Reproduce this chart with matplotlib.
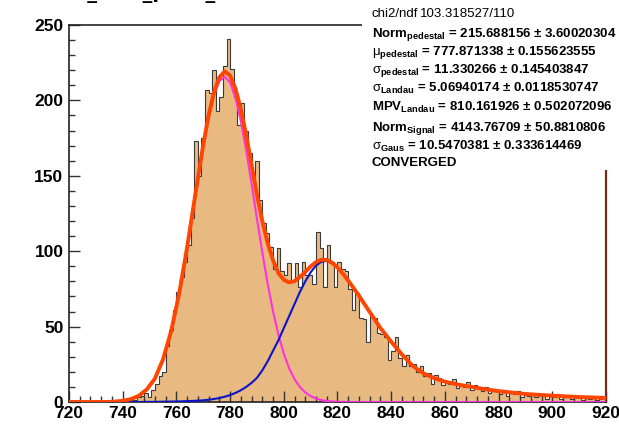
import matplotlib
matplotlib.use('Agg')
import matplotlib.pyplot as plt
from matplotlib.patches import Rectangle
from matplotlib.ticker import MultipleLocator
import numpy as np

plt.rcParams['font.family'] = ['Liberation Sans', 'DejaVu Sans']
plt.rcParams['mathtext.fontset'] = 'custom'
plt.rcParams['mathtext.rm'] = 'Liberation Sans'
plt.rcParams['mathtext.bf'] = 'Liberation Sans:bold'
plt.rcParams['mathtext.it'] = 'Liberation Sans:italic'

# histogram range and bin contents (150 bins)
x_lo, x_hi = 720, 920
counts = [0, 0, 0, 0, 0, 0, 0, 0, 0, 0, 0, 0, 0, 0, 0, 0,
          0, 1, 1, 3, 4, 6, 3, 8, 12, 17, 20, 37, 48, 61, 73, 83,
          93, 104, 122, 173, 150, 175, 207, 205, 220, 193, 202, 223, 241, 221, 202, 184,
          198, 180, 165, 150, 160, 134, 119, 112, 103, 88, 102, 87, 84, 92, 81, 92,
          76, 93, 84, 84, 78, 113, 102, 76, 104, 93, 76, 93, 88, 87, 75, 61,
          72, 56, 55, 40, 57, 56, 46, 45, 43, 28, 34, 43, 29, 24, 31, 24,
          25, 20, 24, 17, 19, 12, 18, 16, 11, 14, 12, 15, 9, 12, 10, 13,
          8, 11, 9, 7, 10, 6, 8, 7, 5, 8, 4, 6, 5, 7, 3, 5,
          4, 6, 3, 4, 5, 2, 4, 3, 5, 2, 3, 4, 2, 3, 4, 1,
          3, 2, 3, 1, 2, 3]

# fit curves
fit_x = [720, 730, 736, 740, 743, 746, 749, 752, 755, 758, 761, 764, 767, 770,
         772, 774, 776, 778, 780, 782, 784, 786, 788, 790, 792, 794, 796, 798,
         800, 802, 804, 806, 808, 810, 812, 814, 816, 818, 820, 822, 824, 826,
         828, 830, 833, 836, 840, 844, 848, 852, 856, 860, 865, 870, 875, 880,
         890, 900, 910, 920]
pedestal = [0, 0, 0.1, 0.8, 1.9, 4.1, 8.3, 15.4, 28, 46.3, 71.2, 102, 136.2, 169.5,
            188.5, 203.5, 212.8, 215.7, 211.9, 201.8, 186.3, 166.8, 144.6, 121.4, 99.1, 78.3, 60, 44.5,
            32, 22.3, 15.1, 9.9, 6.3, 3.9, 2.3, 1.3, 0.7, 0.4, 0.2, 0.1, 0, 0,
            0, 0, 0, 0, 0, 0, 0, 0, 0, 0, 0, 0, 0, 0,
            0, 0, 0, 0]
signal = [0, 0, 0, 0, 0, 0, 0.1, 0.1, 0.2, 0.3, 0.4, 0.6, 0.8, 1.1,
          1.5, 2, 2.6, 3.5, 4.6, 6, 7.8, 10, 12.7, 16, 21, 27, 34, 41,
          49, 57, 65, 73, 80, 86, 90.5, 93, 93.5, 92, 89, 85, 80.5, 75.5,
          70.5, 65, 57, 49, 40, 31.5, 24, 19, 15.8, 13.5, 11.5, 10, 8.5, 7.2,
          5.3, 4.2, 3.3, 2.7]
total = [0, 0, 0.1, 0.8, 1.9, 4.1, 8.4, 15.5, 28.2, 46.6, 71.6, 102.6, 137, 170.6,
         190, 205.5, 215.4, 219.2, 216.5, 207.8, 194.1, 176.8, 157.3, 137.4, 120.1, 105.3, 94, 85.5,
         81, 79.3, 80.1, 82.9, 86.3, 89.9, 92.8, 94.3, 94.2, 92.4, 89.2, 85.1, 80.5, 75.5,
         70.5, 65, 57, 49, 40, 31.5, 24, 19, 15.8, 13.5, 11.5, 10, 8.5, 7.2,
         5.3, 4.2, 3.3, 2.7]

stat_labels = ['chi2/ndf',
               r'$\mathbf{Norm}_{\mathbf{pedestal}}$',
               r'$\mathrm{\mu}_{\mathbf{pedestal}}$',
               r'$\mathrm{\sigma}_{\mathbf{pedestal}}$',
               r'$\mathrm{\sigma}_{\mathbf{Landau}}$',
               r'$\mathbf{MPV}_{\mathbf{Landau}}$',
               r'$\mathbf{Norm}_{\mathbf{Signal}}$',
               r'$\mathrm{\sigma}_{\mathbf{Gaus}}$',
               'CONVERGED']
stat_values = ['103.318527/110',
               ' = 215.688156 ± 3.60020304',
               ' = 777.871338 ± 0.155623555',
               ' = 11.330266 ± 0.145403847',
               ' = 5.06940174 ± 0.0118530747',
               ' = 810.161926 ± 0.502072096',
               ' = 4143.76709 ± 50.8810806',
               ' = 10.5470381 ± 0.333614469',
               '']

W, H = 619, 424
fig = plt.figure(figsize=(W / 100, H / 100), dpi=100)
ax = fig.add_axes([69 / W, 22 / H, (606 - 69) / W, (402 - 25) / H])

edges = np.linspace(x_lo, x_hi, len(counts) + 1)
ax.stairs(counts, edges, fill=True, color='#e8ba82', zorder=1)
ax.stairs(counts, edges, color='#3a3a3a', lw=0.8, zorder=2)

ax.plot(fit_x, pedestal, color='#ff33dd', lw=1.5, zorder=3)
ax.plot(fit_x, signal, color='#0a14c8', lw=1.5, zorder=3)
ax.plot(fit_x, total, color='#ff4500', lw=2.8, zorder=4, solid_capstyle='butt')

ax.set_xlim(x_lo, x_hi)
ax.set_ylim(0, 250)
ax.xaxis.set_major_locator(MultipleLocator(20))
ax.xaxis.set_minor_locator(MultipleLocator(4))
ax.yaxis.set_major_locator(MultipleLocator(50))
ax.yaxis.set_minor_locator(MultipleLocator(10))
ax.tick_params(which='both', direction='in', top=False, right=False,
               width=1.0, color='#333333')
ax.tick_params(which='major', length=8, labelsize=12.5)
ax.tick_params(which='minor', length=4.5)
ax.tick_params(axis='x', pad=3)
ax.tick_params(axis='y', pad=4)
for lab in ax.get_xticklabels() + ax.get_yticklabels():
    lab.set_fontweight('bold')

for side in ['left', 'bottom', 'top']:
    ax.spines[side].set_linewidth(1.2)
    ax.spines[side].set_color('#222222')
ax.spines['right'].set_linewidth(1.6)
ax.spines['right'].set_color('#7a2a1a')

# title, almost entirely above the top edge in the reference
fig.text(20 / W, 1 + 1.5 / H, 'hTotal_ADC_pixel_sum0', fontsize=14,
         fontweight='bold', family='DejaVu Sans', va='baseline', ha='left')

# stats box
fig.patches.append(Rectangle((362 / W, 1 - 170 / H), 1, 170 / H,
                             transform=fig.transFigure, facecolor='white',
                             edgecolor='none', zorder=5))
baselines = [17, 37, 55, 73, 92, 111, 131, 150, 166]
for i, (lab, val) in enumerate(zip(stat_labels, stat_values)):
    y = 1 - baselines[i] / H
    if i == 0:
        fig.text(372 / W, y, lab, fontsize=9.5, va='baseline', zorder=6)
        fig.text(420 / W, y, val, fontsize=9.5, va='baseline', zorder=6)
    else:
        fig.text(372 / W, y, lab + val, fontsize=9.5, fontweight='bold',
                 va='baseline', zorder=6)

fig.savefig('out.png', dpi=100)
